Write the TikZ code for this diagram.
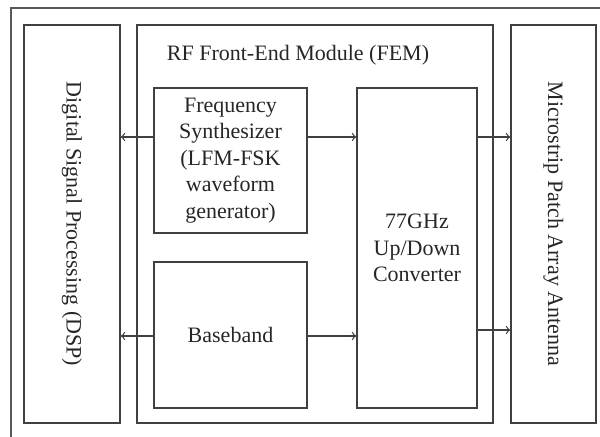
\documentclass[tikz,border=0pt]{standalone}
\usepackage{fontspec}
\setmainfont{Liberation Serif}
\begin{document}
\begin{tikzpicture}[x=0.5pt,y=-0.5pt,
  ln/.style={draw=black!75,line width=0.75pt},
  blk/.style={ln,rectangle,inner sep=0pt,anchor=center},
  txt/.style={text=black!85,font=\fontsize{11}{13.3}\selectfont,align=center,inner sep=0pt},
  arr/.style={ln,line width=0.6pt,->}]
\useasboundingbox (0,0) rectangle (600,437);
% outer frame (partly visible)
\draw[ln,draw=black!65] (11,437) -- (11,8) -- (600,8);
% blocks
\node[blk,minimum width=48pt,minimum height=199pt] (dsp) at (72,224) {};
\node[blk,minimum width=178pt,minimum height=199pt] (fem) at (315,224) {};
\node[blk,minimum width=42.5pt,minimum height=199pt] (ant) at (553.5,224) {};
\node[blk,minimum width=76.5pt,minimum height=72.5pt] (fs) at (230.5,160.5) {};
\node[blk,minimum width=76.5pt,minimum height=73pt] (bb) at (230.5,335) {};
\node[blk,minimum width=60pt,minimum height=160pt] (cv) at (417,248) {};
% texts
\node[txt,rotate=-90] (dspt) at (dsp.center) {Digital Signal Processing (DSP)};
\node[txt,rotate=-90] (antt) at (ant.center) {Microstrip Patch Array Antenna};
\node[txt] (femt) at (298,55) {RF Front-End Module (FEM)};
\node[txt] (fst) at (fs.center) {Frequency\\Synthesizer\\(LFM-FSK\\waveform\\generator)};
\node[txt] (bbt) at (bb.center) {Baseband};
\node[txt] (cvt) at (cv.center) {77GHz\\Up/Down\\Converter};
% arrow levels
\coordinate (ya) at (0,137);
\coordinate (yb) at (0,336);
\coordinate (yc) at (0,330);
% connectors
\draw[arr] (fs.west |- ya) -- (dsp.east |- ya);
\draw[arr] (fs.east |- ya) -- (cv.west |- ya);
\draw[arr] (cv.east |- ya) -- (ant.west |- ya);
\draw[arr] (bb.west |- yb) -- (dsp.east |- yb);
\draw[arr] (bb.east |- yb) -- (cv.west |- yb);
\draw[arr] (cv.east |- yc) -- (ant.west |- yc);
\end{tikzpicture}
\end{document}
